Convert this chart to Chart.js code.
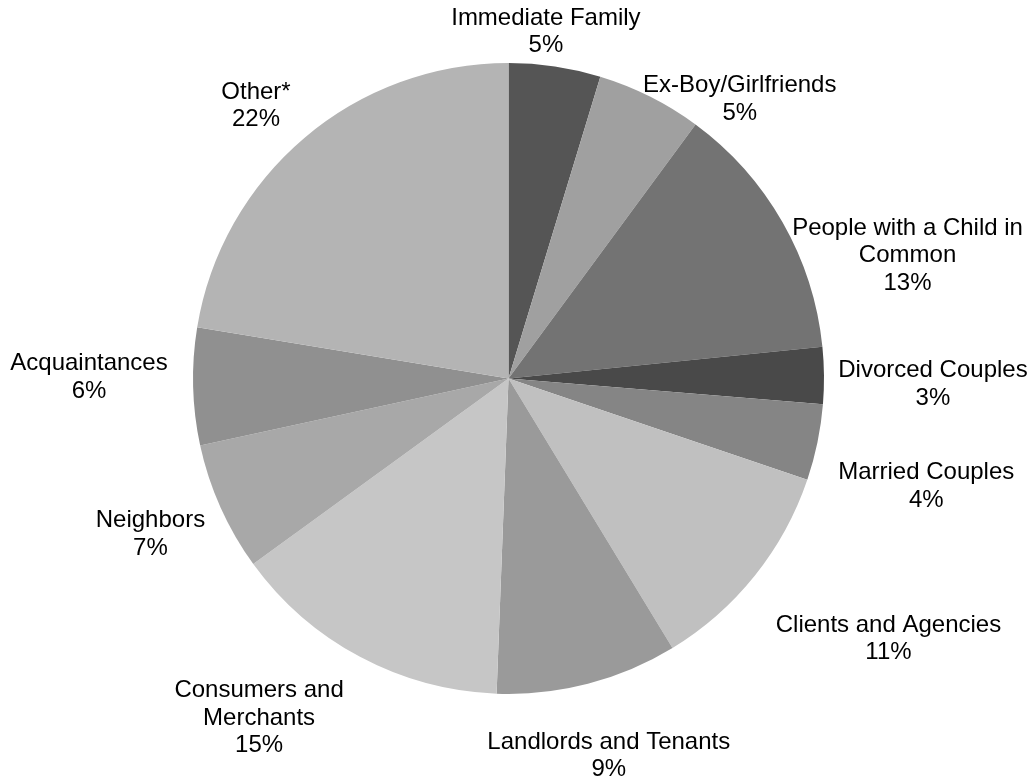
<!DOCTYPE html>
<html>
<head>
<meta charset="utf-8">
<script src="https://cdn.jsdelivr.net/npm/chart.js@4.4.1/dist/chart.umd.min.js"></script>
<style>
  html, body { margin: 0; padding: 0; background: #fff; }
  #wrap { width: 1034px; height: 784px; }
</style>
</head>
<body>
<div id="wrap"><canvas id="pie"></canvas></div>
<script>
  // categories (clockwise from 12 o'clock)
  const categories = [
    'Immediate Family', 'Ex-Boy/Girlfriends', 'People with a Child in Common',
    'Divorced Couples', 'Married Couples', 'Clients and Agencies',
    'Landlords and Tenants', 'Consumers and Merchants', 'Neighbors',
    'Acquaintances', 'Other*'
  ];
  // slice sizes (share of 100)
  const shares = [4.7, 5.4, 13.3, 2.9, 3.9, 11.1, 9.3, 14.4, 6.6, 6.0, 22.4];
  // printed percentages
  const percentLabels = ['5%', '5%', '13%', '3%', '4%', '11%', '9%', '15%', '7%', '6%', '22%'];
  // how each label is broken into lines
  const labelLines = [
    ['Immediate Family'], ['Ex-Boy/Girlfriends'], ['People with a Child in', 'Common'],
    ['Divorced Couples'], ['Married Couples'], ['Clients and Agencies'],
    ['Landlords and Tenants'], ['Consumers and', 'Merchants'], ['Neighbors'],
    ['Acquaintances'], ['Other*']
  ];

  const sliceColors = ['#555555', '#a0a0a0', '#737373', '#494949', '#858585', '#c0c0c0',
                       '#9a9a9a', '#c6c6c6', '#a8a8a8', '#909090', '#b4b4b4'];

  // label placement relative to each slice: [angle shift in degrees, distance beyond rim]
  const labelPlace = [[-2.3, 33], [13, 47], [12.6, 102], [1.3, 109], [2.8, 116], [-4.3, 145],
                      [-0.3, 75], [8.2, 106], [0.6, 75], [1.6, 104], [-2.5, 56]];

  const outsideLabels = {
    id: 'outsideLabels',
    afterDatasetsDraw(chart) {
      const ctx = chart.ctx;
      const arcs = chart.getDatasetMeta(0).data;
      ctx.save();
      ctx.font = '24px "Liberation Sans", Arial, sans-serif';
      ctx.fillStyle = '#000';
      ctx.textAlign = 'center';
      ctx.textBaseline = 'middle';
      const lh = 27.5;
      arcs.forEach((arc, i) => {
        const p = arc.getProps(['x', 'y', 'startAngle', 'endAngle', 'outerRadius'], true);
        const mid = (p.startAngle + p.endAngle) / 2 + labelPlace[i][0] * Math.PI / 180;
        const dist = p.outerRadius + labelPlace[i][1];
        const cx = p.x + Math.cos(mid) * dist;
        const cy = p.y + Math.sin(mid) * dist;
        const lines = labelLines[i].concat([percentLabels[i]]);
        const top = cy - (lines.length - 1) * lh / 2;
        lines.forEach((t, k) => ctx.fillText(t, cx, top + k * lh));
      });
      ctx.restore();
    }
  };

  new Chart(document.getElementById('pie'), {
    type: 'pie',
    data: {
      labels: categories,
      datasets: [{
        data: shares,
        backgroundColor: sliceColors,
        borderWidth: 0,
        hoverOffset: 0
      }]
    },
    options: {
      responsive: true,
      maintainAspectRatio: false,
      animation: false,
      layout: { padding: { top: 63, bottom: 90, left: 100, right: 117 } },
      plugins: { legend: { display: false }, tooltip: { enabled: false } }
    },
    plugins: [outsideLabels]
  });
</script>
</body>
</html>
